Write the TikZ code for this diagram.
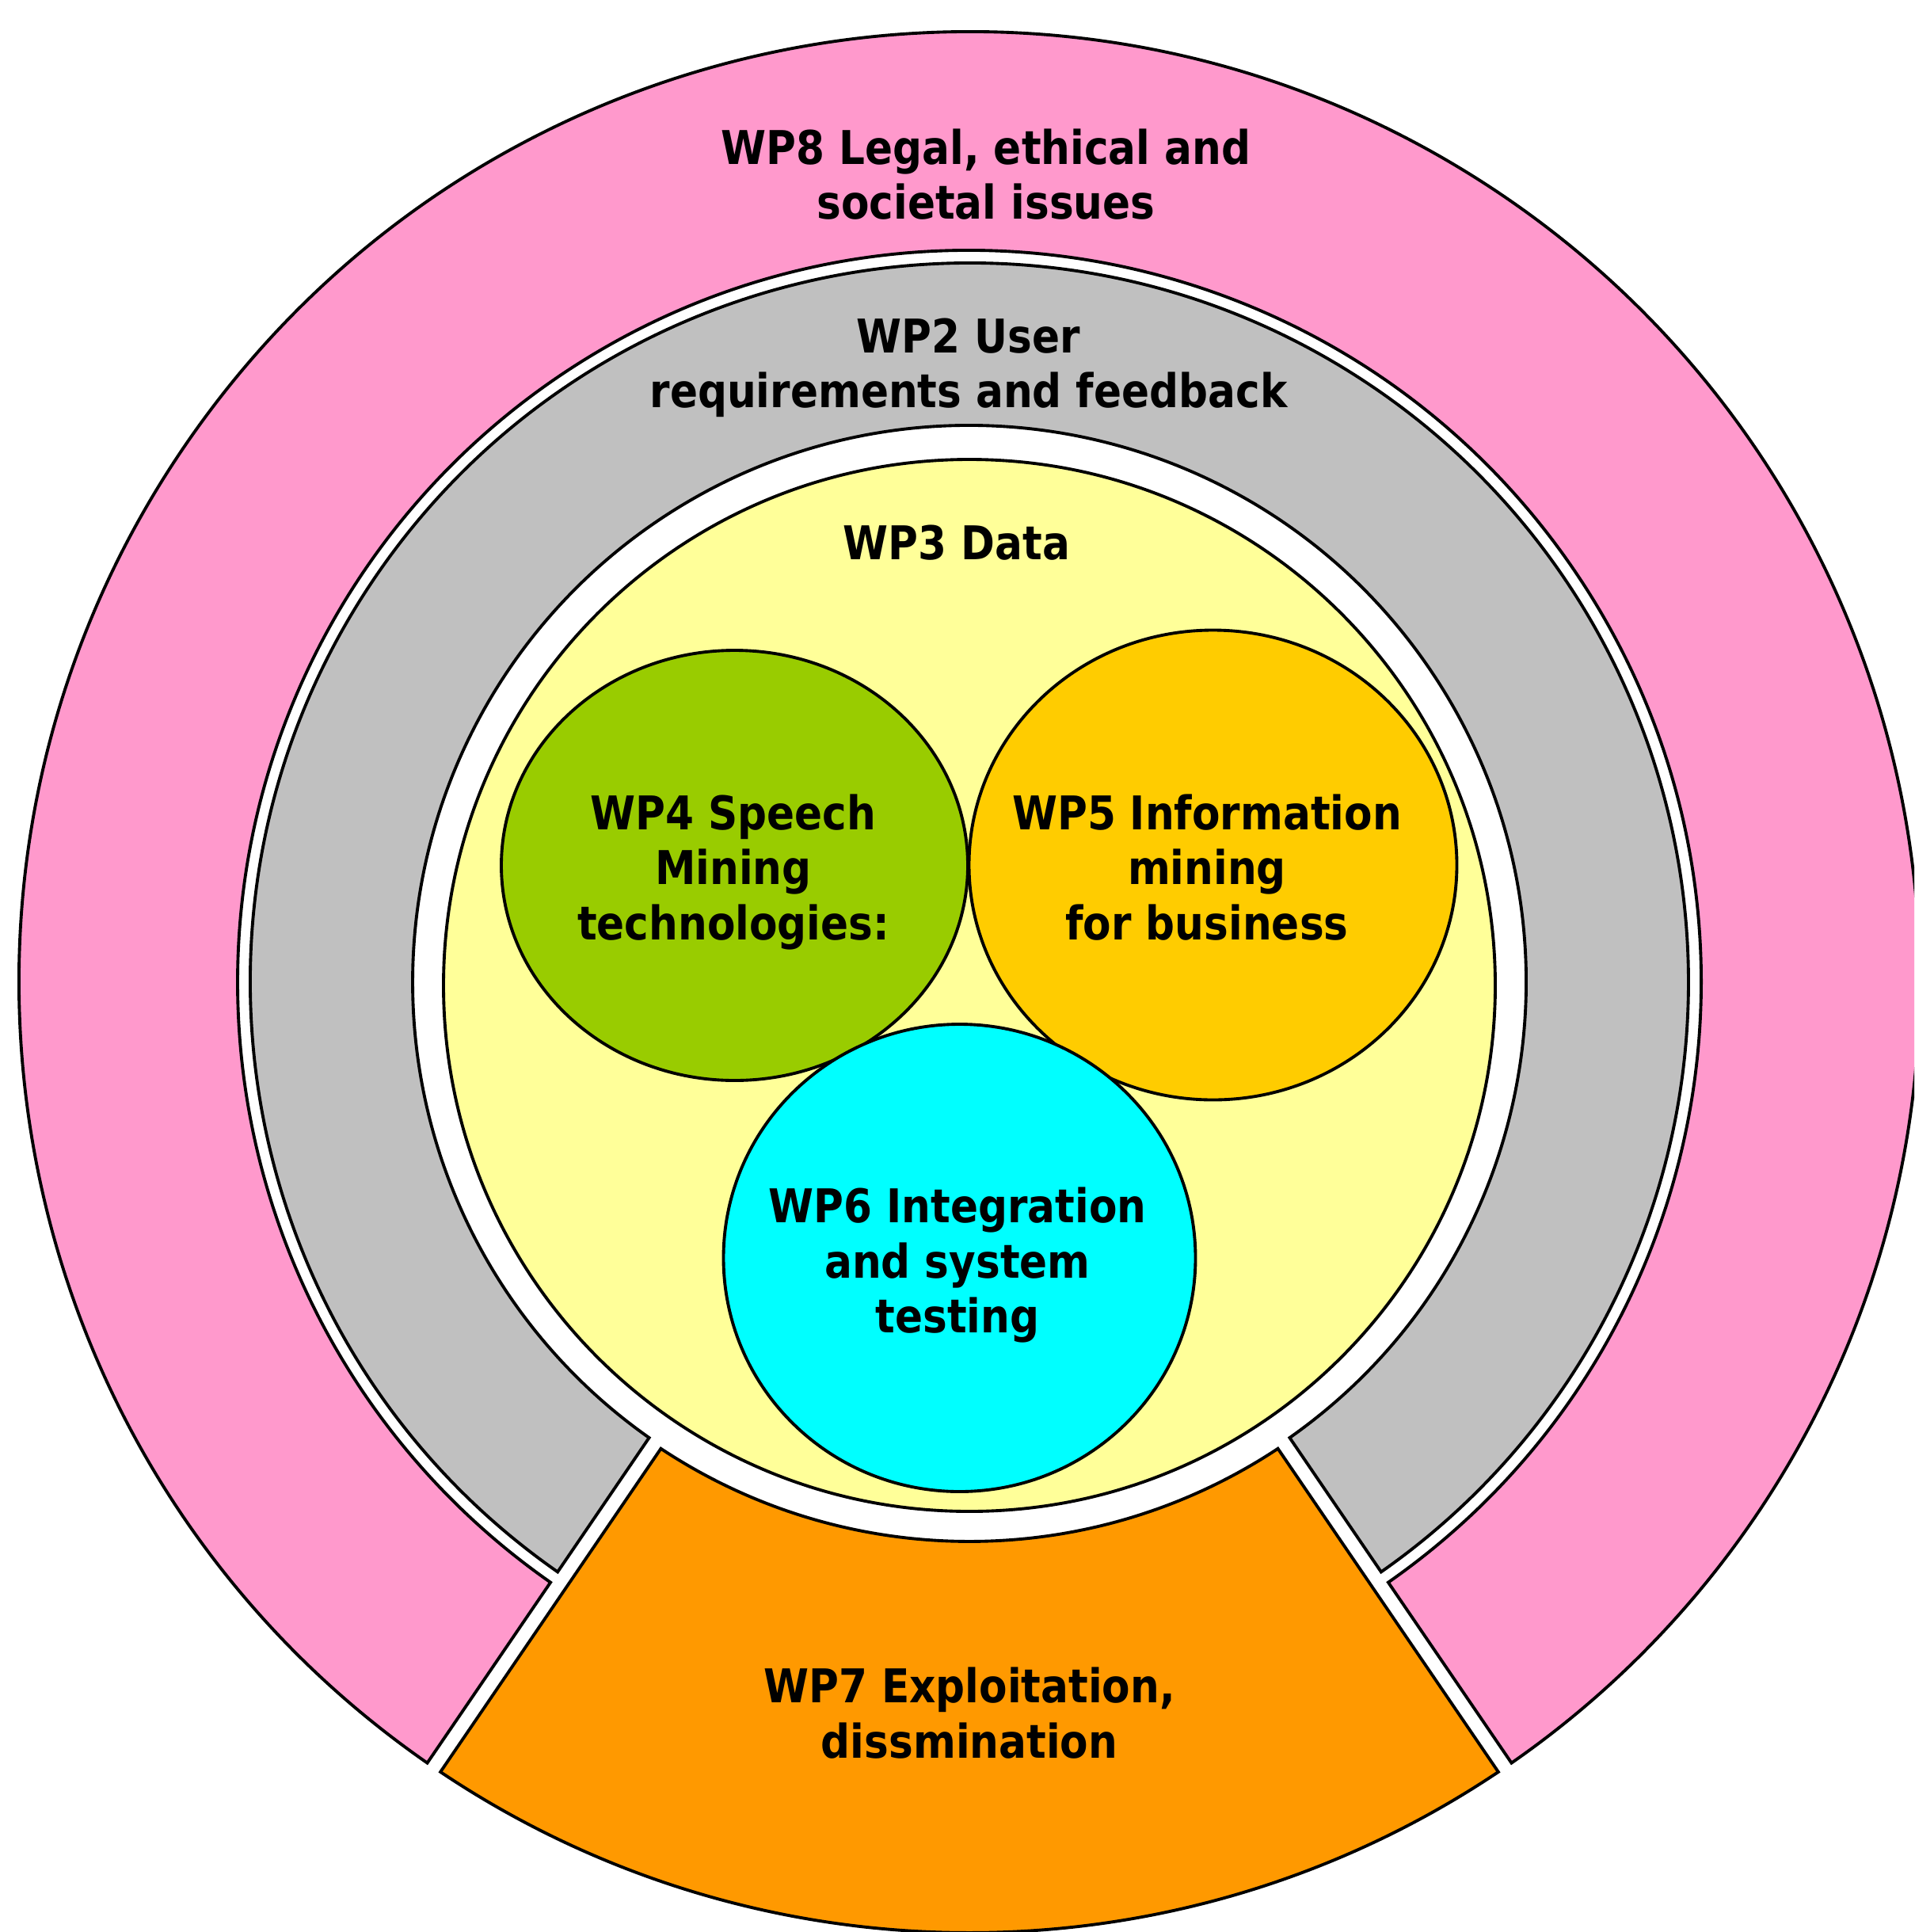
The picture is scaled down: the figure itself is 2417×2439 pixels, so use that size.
\documentclass[tikz,border=0pt]{standalone}
\usepackage{fontspec}
\setmainfont{DejaVu Sans}[FakeStretch=0.88]
\usetikzlibrary{calc}
\definecolor{wppink}{HTML}{FF99CC}
\definecolor{wpgray}{HTML}{C0C0C0}
\definecolor{wpyellow}{HTML}{FFFF99}
\definecolor{wpgreen}{HTML}{99CC00}
\definecolor{wpgold}{HTML}{FFCC00}
\definecolor{wpcyan}{HTML}{00FFFF}
\definecolor{wporange}{HTML}{FF9900}
\begin{document}
\begin{tikzpicture}[x=0.01cm, y=-0.01cm,
  outline/.style={draw=black, line width=1.1pt, line join=miter},
  lbl/.style={anchor=base, inner sep=0pt, text=black,
    font=\fontsize{16.7pt}{19.9pt}\selectfont\bfseries}]
\useasboundingbox (0,0) rectangle (2417,2439);
\clip (0,0) rectangle (2417,2439);
\coordinate (C) at (1224,1240);
\coordinate (Cy) at (1224,1244);
% WP8 ring (pink)
\filldraw[outline, fill=wppink] ($(C)+(124.78:1200)$)
  arc[start angle=124.78, end angle=415.22, radius=1200]
  -- ($(C)+(415.08:924)$)
  arc[start angle=415.08, end angle=124.92, radius=924] -- cycle;
% WP2 ring (gray)
\filldraw[outline, fill=wpgray] ($(C)+(124.93:908)$)
  arc[start angle=124.93, end angle=415.07, radius=908]
  -- ($(C)+(414.88:703)$)
  arc[start angle=414.88, end angle=125.12, radius=703] -- cycle;
% WP7 wedge (orange)
\filldraw[outline, fill=wporange] ($(C)+(56.51:706)$)
  arc[start angle=56.51, end angle=123.49, radius=706]
  -- ($(C)+(123.82:1200)$)
  arc[start angle=123.82, end angle=56.18, radius=1200] -- cycle;
% WP3 data (yellow)
\filldraw[outline, fill=wpyellow] (Cy) circle[radius=664];
% WP4, WP5, WP6
\filldraw[outline, fill=wpgreen] (927.5,1092.5) ellipse[x radius=294.5, y radius=271.5];
\filldraw[outline, fill=wpgold] (1531.5,1092) ellipse[x radius=308, y radius=296.5];
\filldraw[outline, fill=wpcyan] (1211.5,1588) ellipse[x radius=298, y radius=295];
% labels
\node[lbl] (wp8) at (1245,207) {\begin{tabular}[t]{@{}c@{}}WP8 Legal, ethical and\\societal issues\end{tabular}};
\node[lbl] (wp2) at (1223,445) {\begin{tabular}[t]{@{}c@{}}WP2 User\\requirements and feedback\end{tabular}};
\node[lbl] (wp3) at (1208,706) {WP3 Data};
\node[lbl] (wp4) at (926,1047) {\begin{tabular}[t]{@{}c@{}}WP4 Speech\\Mining\\technologies:\end{tabular}};
\node[lbl] (wp5) at (1524,1047) {\begin{tabular}[t]{@{}c@{}}WP5 Information\\mining\\for business\end{tabular}};
\node[lbl] (wp6) at (1209,1543) {\begin{tabular}[t]{@{}c@{}}WP6 Integration\\and system\\testing\end{tabular}};
\node[lbl] (wp7) at (1224,2149) {\begin{tabular}[t]{@{}c@{}}WP7 Exploitation,\\dissmination\end{tabular}};
\end{tikzpicture}
\end{document}
